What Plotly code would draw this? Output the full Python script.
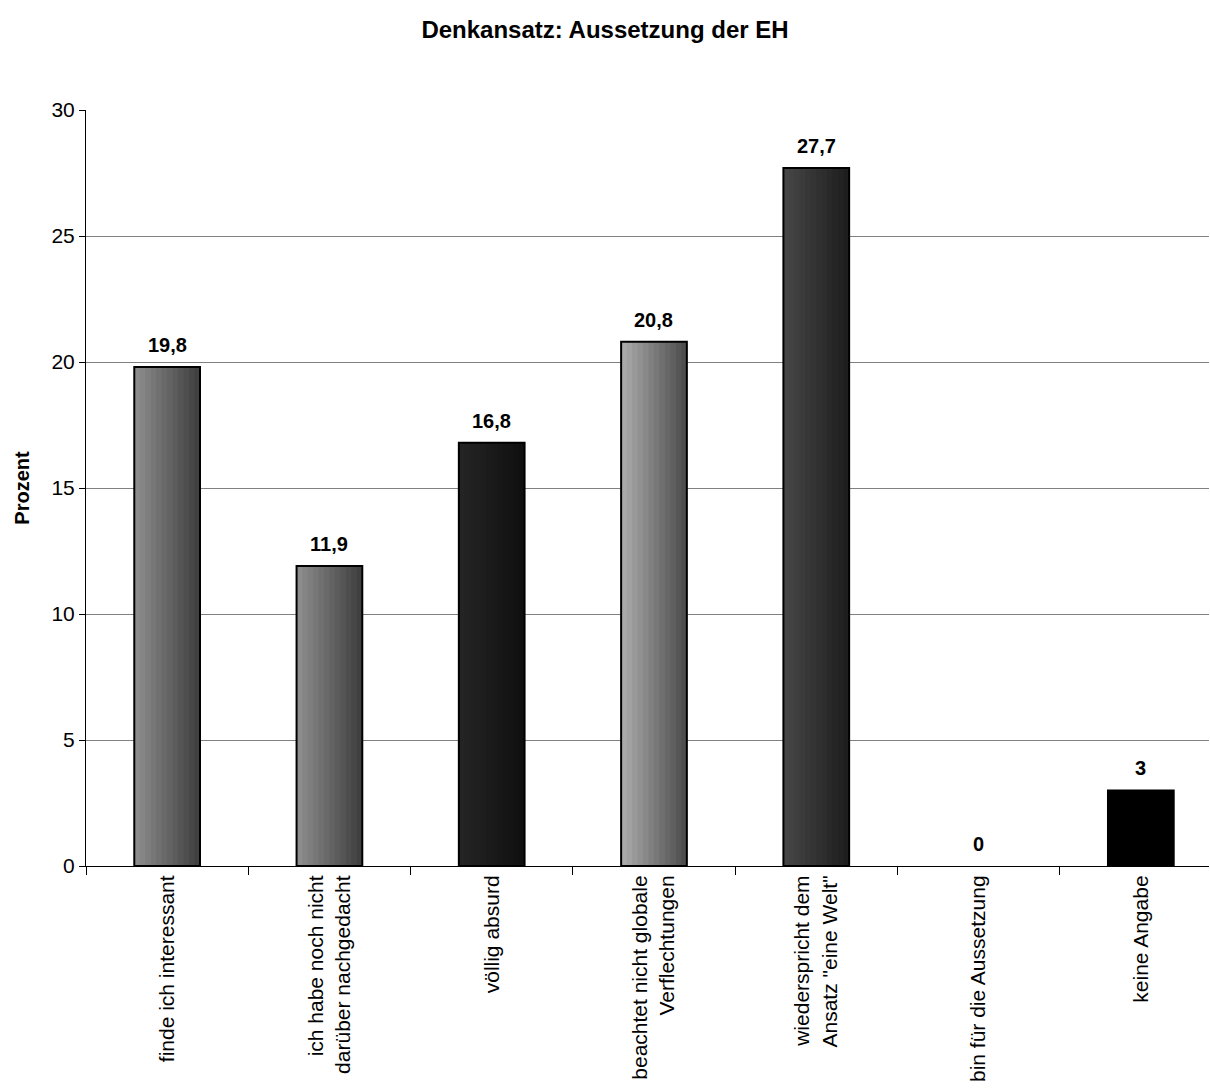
import plotly.graph_objects as go

# Survey answers and their shares in percent
categories = [
    "finde ich interessant",
    "ich habe noch nicht<br>darüber nachgedacht",
    "völlig absurd",
    "beachtet nicht globale<br>Verflechtungen",
    "wiederspricht dem<br>Ansatz \"eine Welt\"",
    "bin für die Aussetzung",
    "keine Angabe",
]
values = [19.8, 11.9, 16.8, 20.8, 27.7, 0, 3]
value_labels = ["19,8", "11,9", "16,8", "20,8", "27,7", "0", "3"]

# Left/right grey levels of each bar's horizontal gradient
grad_left = [140, 140, 36, 170, 70, 0, 0]
grad_right = [64, 64, 16, 78, 30, 0, 0]

FONT = "Liberation Sans, Arial, sans-serif"
BAR_W = 0.405
STEPS = 12

fig = go.Figure()

# Gradient fill: each slice runs from its start to the bar's right edge,
# later slices cover earlier ones, giving stepped bands without seams
for k in range(STEPS):
    t = k / (STEPS - 1)
    cols = []
    for a, b in zip(grad_left, grad_right):
        g = round(a + (b - a) * t)
        cols.append(f"rgb({g},{g},{g})")
    start = k * BAR_W / STEPS
    fig.add_trace(go.Bar(
        x=categories, y=values,
        width=BAR_W - start,
        offset=-BAR_W / 2 + start,
        marker=dict(color=cols, line=dict(width=0)),
        hoverinfo="skip", showlegend=False,
    ))

# Black outline around each non-empty bar
fig.add_trace(go.Bar(
    x=categories, y=values,
    width=BAR_W, offset=-BAR_W / 2,
    marker=dict(color="rgba(0,0,0,0)",
                line=dict(color="black", width=[2 if v > 0 else 0 for v in values])),
    hoverinfo="skip", showlegend=False,
))

# Value labels above the bars
for cat, v, lab in zip(categories, values, value_labels):
    fig.add_annotation(
        x=cat, y=v, text=f"<b>{lab}</b>", showarrow=False,
        yanchor="middle", yshift=22,
        font=dict(family=FONT, size=20, color="black"),
    )

fig.update_layout(
    barmode="overlay",
    width=1210, height=1092,
    margin=dict(l=86, r=1, t=110, b=226),
    paper_bgcolor="white", plot_bgcolor="white",
    font=dict(family=FONT, size=21, color="black"),
    title=dict(
        text="<b>Denkansatz: Aussetzung der EH</b>",
        x=0.5, xref="container", xanchor="center",
        y=1 - 30 / 1092, yref="container", yanchor="middle",
        font=dict(family=FONT, size=24, color="black"),
    ),
)

# The plot area runs slightly past the right page edge, so the last
# category slot is cut off a little
fig.update_xaxes(
    type="category", tickson="boundaries",
    range=[-0.5, 6.42],
    ticks="outside", ticklen=8, tickcolor="black", tickwidth=1,
    showline=True, linecolor="black", linewidth=1,
    tickangle=-90, tickfont=dict(family=FONT, size=21),
    showgrid=False,
)
fig.update_yaxes(
    range=[0, 30], dtick=5, tick0=0,
    ticks="outside", ticklen=6, tickcolor="black",
    showline=True, linecolor="black", linewidth=1,
    showgrid=True, gridcolor="#808080", gridwidth=1,
    tickfont=dict(family=FONT, size=21),
    title=dict(text="<b>Prozent</b>", font=dict(family=FONT, size=20), standoff=16),
    zeroline=False,
)

fig.write_html("out.html")
